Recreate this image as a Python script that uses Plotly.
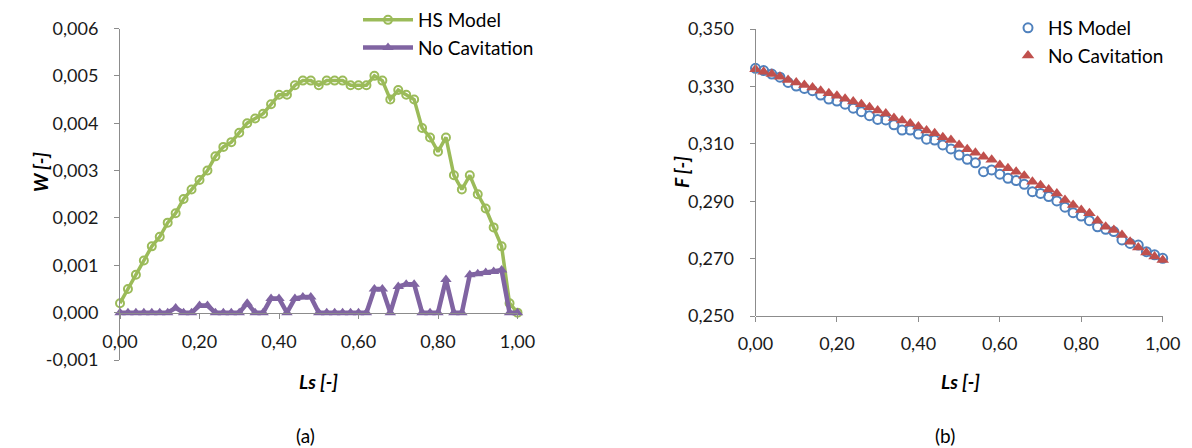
import plotly.graph_objects as go

# ---------------- data ----------------
ls = [round(i * 0.02, 2) for i in range(51)]

w_hs_model = [
    0.0002, 0.0005, 0.0008, 0.0011, 0.0014, 0.0016, 0.0019, 0.0021, 0.0024, 0.0026,
    0.0028, 0.0030, 0.0033, 0.0035, 0.0036, 0.0038, 0.0040, 0.0041, 0.0042, 0.0044,
    0.0046, 0.0046, 0.0048, 0.0049, 0.0049, 0.0048, 0.0049, 0.0049, 0.0049, 0.0048,
    0.0048, 0.0048, 0.0050, 0.0049, 0.0045, 0.0047, 0.0046, 0.0045, 0.0039, 0.0037,
    0.0034, 0.0037, 0.0029, 0.0026, 0.0029, 0.0025, 0.0022, 0.0018, 0.0014, 0.0002,
    0.0000,
]
w_no_cav = [
    0, 0, 0, 0, 0, 0, 0, 0.0001, 0, 0,
    0.00015, 0.00015, 0, 0, 0, 0, 0.0002, 0, 0, 0.0003,
    0.0003, 0, 0.0003, 0.00033, 0.00033, 0, 0, 0, 0, 0,
    0, 0, 0.0005, 0.0005, 0, 0.00055, 0.0006, 0.0006, 0, 0,
    0, 0.0007, 0, 0, 0.0008, 0.00082, 0.00085, 0.00087, 0.0009, 0,
    0,
]

f_hs_model = [
    0.3363, 0.3355, 0.3343, 0.3332, 0.3314, 0.3301, 0.3293, 0.3285, 0.3270, 0.3256,
    0.3249, 0.3238, 0.3224, 0.3212, 0.3198, 0.3185, 0.3183, 0.3166, 0.3148, 0.3148,
    0.3134, 0.3116, 0.3113, 0.3096, 0.3082, 0.3061, 0.3046, 0.3034, 0.3003, 0.3009,
    0.2994, 0.2980, 0.2972, 0.2959, 0.2933, 0.2927, 0.2916, 0.2901, 0.2879, 0.2860,
    0.2848, 0.2832, 0.2811, 0.2802, 0.2794, 0.2765, 0.2753, 0.2747, 0.2724, 0.2713,
    0.2701,
]
f_no_cav = [
    0.3360, 0.3351, 0.3343, 0.3334, 0.3322, 0.3314, 0.3305, 0.3296, 0.3285, 0.3276,
    0.3267, 0.3257, 0.3247, 0.3238, 0.3227, 0.3216, 0.3206, 0.3190, 0.3181, 0.3171,
    0.3160, 0.3146, 0.3137, 0.3123, 0.3113, 0.3096, 0.3081, 0.3069, 0.3055, 0.3044,
    0.3026, 0.3015, 0.3003, 0.2989, 0.2968, 0.2956, 0.2941, 0.2927, 0.2904, 0.2887,
    0.2869, 0.2858, 0.2832, 0.2811, 0.2800, 0.2782, 0.2759, 0.2739, 0.2721, 0.2707,
    0.2695,
]

x_ticks = [0, 0.2, 0.4, 0.6, 0.8, 1.0]
x_ticktext = ["0,00", "0,20", "0,40", "0,60", "0,80", "1,00"]
w_ticks = [-0.001, 0, 0.001, 0.002, 0.003, 0.004, 0.005, 0.006]
w_ticktext = ["-0,001", "0,000", "0,001", "0,002", "0,003", "0,004", "0,005", "0,006"]
f_ticks = [0.25, 0.27, 0.29, 0.31, 0.33, 0.35]
f_ticktext = ["0,250", "0,270", "0,290", "0,310", "0,330", "0,350"]

# ---------------- layout helpers ----------------
W, H = 1192, 448
OFF = 8  # page body margin offset of the plot div
def px(x):
    return (x - OFF) / W
def py(y):
    return 1 - (y - OFF) / H

FONT = "Lato, 'Open Sans', sans-serif"
AX = "#8c8c8c"
GREEN = "#9BBB59"
PURPLE = "#8064A2"
BLUE = "#4F81BD"
RED = "#C0504D"

ydom1 = [py(360), py(28.5)]
wmin, wmax = -0.001, 0.006
zero_pos = ydom1[0] + (0 - wmin) / (wmax - wmin) * (ydom1[1] - ydom1[0])
ydom2 = [py(316), py(29)]

fig = go.Figure()

fig.add_trace(go.Scatter(
    x=ls, y=w_hs_model, name="HS Model", mode="lines+markers",
    line=dict(color=GREEN, width=3.5),
    marker=dict(symbol="circle-open", size=8, color=GREEN, line=dict(width=2, color=GREEN)),
    xaxis="x", yaxis="y", cliponaxis=False, legend="legend",
))
fig.add_trace(go.Scatter(
    x=ls, y=w_no_cav, name="No Cavitation", mode="lines+markers",
    line=dict(color=PURPLE, width=4.5),
    marker=dict(symbol="triangle-up", size=10, color=PURPLE),
    xaxis="x", yaxis="y", cliponaxis=False, legend="legend",
))
fig.add_trace(go.Scatter(
    x=ls, y=f_hs_model, name="HS Model", mode="markers",
    marker=dict(symbol="circle-open", size=9, color=BLUE, line=dict(width=2, color=BLUE)),
    xaxis="x2", yaxis="y2", cliponaxis=False, legend="legend2",
))
fig.add_trace(go.Scatter(
    x=ls, y=f_no_cav, name="No Cavitation", mode="markers",
    marker=dict(symbol="triangle-up", size=11, color=RED),
    xaxis="x2", yaxis="y2", cliponaxis=False, legend="legend2",
))

axis_common = dict(
    showgrid=False, zeroline=False, showline=True, linecolor=AX, linewidth=1,
    ticks="outside", ticklen=5, tickcolor=AX, tickwidth=1, automargin=False,
    tickfont=dict(family=FONT, size=18, color="#1a1a1a"),
)

fig.update_layout(
    width=W, height=H, autosize=False,
    margin=dict(l=0, r=0, t=0, b=0, autoexpand=False),
    paper_bgcolor="white", plot_bgcolor="white",
    font=dict(family=FONT, size=19, color="black"),
    xaxis=dict(domain=[px(120), px(517.5)], range=[0, 1], anchor="free", position=zero_pos,
               tickvals=x_ticks, ticktext=x_ticktext, ticklabelstandoff=8, **axis_common),
    yaxis=dict(domain=ydom1, range=[wmin, wmax], anchor="x",
               tickvals=w_ticks, ticktext=w_ticktext, ticklabelstandoff=12, **axis_common),
    xaxis2=dict(domain=[px(755.5), px(1162.7)], range=[0, 1], anchor="free", position=ydom2[0],
                tickvals=x_ticks, ticktext=x_ticktext, ticklabelstandoff=6, **axis_common),
    yaxis2=dict(domain=ydom2, range=[0.25, 0.35], anchor="x2",
                tickvals=f_ticks, ticktext=f_ticktext, ticklabelstandoff=12, **axis_common),
    legend=dict(x=px(358), y=py(1), xanchor="left", yanchor="top",
                itemwidth=50, bgcolor="rgba(0,0,0,0)", borderwidth=0,
                font=dict(family=FONT, size=19, color="black")),
    legend2=dict(x=px(1008), y=py(9), xanchor="left", yanchor="top",
                 bgcolor="rgba(0,0,0,0)", borderwidth=0,
                 font=dict(family=FONT, size=19, color="black")),
    showlegend=True,
)

ann_font = dict(family=FONT, size=19, color="black")
annotations = [
    dict(text="<b><i>W [-]</i></b>", x=px(40), y=py(172), textangle=-90),
    dict(text="<b><i>F [-]</i></b>", x=px(681), y=py(172), textangle=-90),
    dict(text="<b><i>Ls [-]</i></b>", x=px(318), y=py(381)),
    dict(text="<b><i>Ls [-]</i></b>", x=px(960), y=py(381)),
    dict(text="(a)", x=px(305), y=py(435)),
    dict(text="(b)", x=px(945), y=py(435)),
]
for a in annotations:
    fig.add_annotation(xref="paper", yref="paper", showarrow=False,
                       xanchor="center", yanchor="middle", font=ann_font, **a)

fig.write_html("out.html")
